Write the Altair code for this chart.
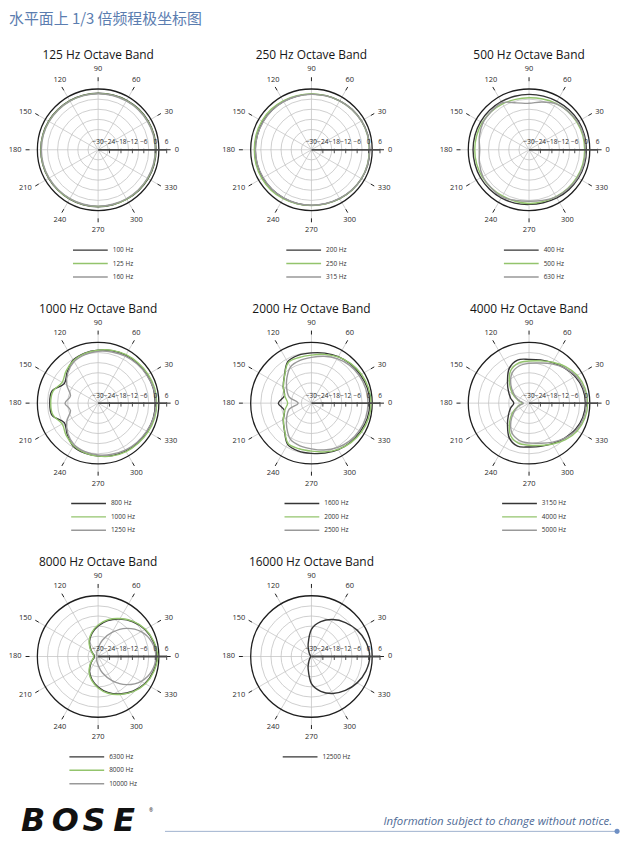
import altair as alt
import pandas as pd

TITLE = "水平面上 1/3 倍频程极坐标图"
FOOTER_NOTE = "Information subject to change without notice."
LOGO = ["B", "O", "S", "E"]

ANGLES = [0, 15, 30, 45, 60, 75, 90, 105, 120, 135, 150, 165,
          180, 195, 210, 225, 240, 255, 270, 285, 300, 315, 330, 345]
SPOKES = [0, 30, 60, 90, 120, 150, 180, 210, 240, 270, 300, 330]
RING_DB = [-24, -18, -12, -6, 0]
OUTER_DB = [6]
AXIS_DB = [-30, -24, -18, -12, -6, 0, 6]

BAND_TITLES = ["125 Hz Octave Band", "250 Hz Octave Band", "500 Hz Octave Band",
               "1000 Hz Octave Band", "2000 Hz Octave Band", "4000 Hz Octave Band",
               "8000 Hz Octave Band", "16000 Hz Octave Band"]
BAND_SERIES = [["100 Hz", "125 Hz", "160 Hz"],
               ["200 Hz", "250 Hz", "315 Hz"],
               ["400 Hz", "500 Hz", "630 Hz"],
               ["800 Hz", "1000 Hz", "1250 Hz"],
               ["1600 Hz", "2000 Hz", "2500 Hz"],
               ["3150 Hz", "4000 Hz", "5000 Hz"],
               ["6300 Hz", "8000 Hz", "10000 Hz"],
               ["12500 Hz"]]

# relative level (dB) at ANGLES
DB_100 = [0.4, 0.4, 0.3, 0.2, 0.0, -0.2, -0.3, -0.3, -0.2, -0.1, 0.0, 0.1,
          0.1, 0.1, 0.0, -0.1, -0.1, -0.1, -0.1, -0.1, 0.0, 0.2, 0.3, 0.4]
DB_125 = [0.2, 0.2, 0.1, 0.0, -0.2, -0.3, -0.4, -0.4, -0.3, -0.2, -0.1, 0.0,
          0.0, 0.0, -0.1, -0.2, -0.2, -0.2, -0.2, -0.2, -0.1, 0.0, 0.1, 0.2]
DB_160 = [0.0, 0.0, -0.1, -0.2, -0.4, -0.5, -0.6, -0.6, -0.5, -0.4, -0.3, -0.2,
          -0.2, -0.2, -0.3, -0.4, -0.4, -0.4, -0.4, -0.4, -0.3, -0.2, -0.1, 0.0]
DB_200 = [0.6, 0.6, 0.4, 0.1, -0.3, -0.6, -0.8, -0.8, -0.7, -0.6, -0.5, -0.5,
          -0.5, -0.5, -0.5, -0.6, -0.7, -0.8, -0.8, -0.7, -0.4, 0.0, 0.4, 0.6]
DB_250 = [0.4, 0.4, 0.3, 0.0, -0.3, -0.6, -0.7, -0.6, -0.3, 0.0, 0.1, 0.1,
          0.0, 0.1, 0.1, 0.0, -0.3, -0.6, -0.7, -0.6, -0.3, 0.0, 0.3, 0.4]
DB_315 = [0.5, 0.5, 0.3, 0.0, -0.4, -0.7, -0.9, -0.9, -0.8, -0.7, -0.7, -0.6,
          -0.6, -0.6, -0.7, -0.7, -0.8, -0.9, -0.9, -0.8, -0.5, -0.1, 0.3, 0.5]
DB_400 = [0.1, 0.1, 0.0, -0.3, -0.6, -0.8, -0.9, -0.9, -0.8, -0.7, -0.6, -0.6,
          -0.6, -0.6, -0.6, -0.7, -0.8, -1.0, -1.3, -1.2, -0.8, -0.4, -0.1, 0.1]
DB_500 = [-0.8, -0.8, -1.0, -1.3, -1.8, -2.4, -2.7, -2.6, -2.2, -1.8, -1.6, -1.5,
          -1.5, -1.5, -1.6, -1.8, -2.0, -2.0, -1.8, -1.8, -1.6, -1.3, -1.0, -0.8]
DB_630 = [-0.3, -0.3, -0.6, -1.3, -2.0, -4.0, -5.6, -4.5, -1.5, -1.8, -2.0, -3.0,
          -4.1, -3.0, -2.0, -1.8, -1.5, -2.5, -3.0, -2.5, -1.5, -1.0, -0.6, -0.3]
DB_800 = [0.0, 0.0, -0.3, -0.6, -0.9, -1.5, -2.2, -2.8, -3.9, -7.0, -9.5, -5.0,
          -4.6, -5.0, -9.5, -7.0, -3.9, -2.8, -2.2, -1.5, -0.9, -0.6, -0.3, 0.0]
DB_1000 = [0.8, 0.7, 0.3, -0.2, -0.6, -1.3, -2.2, -3.0, -4.2, -6.2, -8.2, -5.5,
           -5.1, -5.5, -8.2, -6.2, -4.2, -3.0, -2.2, -1.3, -0.6, -0.2, 0.3, 0.7]
DB_1250 = [0.3, 0.1, -0.5, -1.0, -1.5, -2.2, -2.8, -3.6, -4.8, -7.5, -11.0, -15.0,
           -12.6, -15.0, -11.0, -7.5, -4.8, -3.6, -2.8, -2.2, -1.5, -1.0, -0.5, 0.1]
DB_1600 = [0.6, 0.4, -0.3, -1.0, -1.8, -2.8, -3.6, -3.9, -5.0, -9.9, -12.9, -15.3,
           -12.6, -15.3, -12.9, -9.9, -5.0, -3.9, -3.6, -2.8, -1.8, -1.0, -0.3, 0.4]
DB_2000 = [1.3, 1.0, 0.3, -0.7, -2.0, -3.5, -4.8, -5.2, -5.5, -10.0, -13.0, -15.5,
           -17.5, -15.5, -13.0, -10.0, -5.5, -5.2, -4.8, -3.5, -2.0, -0.7, 0.3, 1.0]
DB_2500 = [-0.3, -0.5, -1.0, -1.8, -3.0, -4.5, -6.0, -6.8, -8.0, -11.7, -15.0, -18.0,
           -23.0, -18.0, -15.0, -11.7, -8.0, -6.8, -6.0, -4.5, -3.0, -1.8, -1.0, -0.5]
DB_3150 = [-0.4, -0.8, -2.0, -3.8, -5.4, -6.5, -7.0, -6.6, -9.1, -14.0, -17.5, -20.0,
           -22.0, -20.0, -17.5, -14.0, -9.1, -6.6, -7.0, -6.5, -5.4, -3.8, -2.0, -0.8]
DB_4000 = [0.8, 0.4, -0.8, -2.9, -5.2, -7.0, -7.9, -8.2, -10.5, -15.5, -20.0, -24.0,
           -26.5, -24.0, -20.0, -15.5, -10.5, -8.2, -7.9, -7.0, -5.2, -2.9, -0.8, 0.4]
DB_5000 = [0.1, -0.3, -1.5, -3.8, -6.2, -8.2, -9.1, -9.8, -12.0, -16.5, -21.0, -24.5,
           -27.0, -24.5, -21.0, -16.5, -12.0, -9.8, -9.1, -8.2, -6.2, -3.8, -1.5, -0.3]
DB_6300 = [0.8, 0.0, -1.6, -4.2, -7.3, -10.5, -14.0, -17.5, -21.0, -24.5, -26.8, -27.8,
           -28.0, -27.8, -26.8, -24.5, -21.0, -17.5, -14.0, -10.5, -7.3, -4.2, -1.6, 0.0]
DB_8000 = [1.3, 0.3, -1.3, -3.9, -7.0, -10.0, -13.5, -17.0, -20.5, -24.0, -26.5, -27.5,
           -27.7, -27.5, -26.5, -24.0, -20.5, -17.0, -13.5, -10.0, -7.0, -3.9, -1.3, 0.3]
DB_10000 = [0.3, -0.8, -3.9, -9.1, -15.4, -21.0, -25.5, -27.5, -28.5, -29.0, -29.3, -29.5,
            -29.5, -29.5, -29.3, -29.0, -28.5, -27.5, -25.5, -21.0, -15.4, -9.1, -3.9, -0.8]
DB_12500 = [0.6, -0.4, -2.3, -4.8, -7.6, -11.1, -15.8, -23.3, -27.5, -29.0, -29.5, -29.7,
            -29.8, -29.7, -29.5, -29.0, -27.5, -23.3, -15.8, -11.1, -7.6, -4.8, -2.3, -0.4]

BAND_VALUES = [[DB_100, DB_125, DB_160], [DB_200, DB_250, DB_315],
               [DB_400, DB_500, DB_630], [DB_800, DB_1000, DB_1250],
               [DB_1600, DB_2000, DB_2500], [DB_3150, DB_4000, DB_5000],
               [DB_6300, DB_8000, DB_10000], [DB_12500]]

# ---- styling / layout (not data) ----
LINE_COLORS = ["#353535", "#93c46c", "#999999"]
FONT = "Open Sans"
K = 69.0 / 36.0          # px per dB
R_OUT = 36 * K           # outer ring radius (px)
R_LAB = 77.0             # angle label radius (px)
COL_W = [219, 219, 180]
COL_CX = [84.7, 80.4, 80.4]
ROW_H = 255
CY = 140


def panel(b, col):
    W = COL_W[col]
    cx = COL_CX[col]
    cy = CY
    H = ROW_H
    xs = alt.Scale(domain=[0, W], range=[0, W], nice=False, zero=False)
    ys = alt.Scale(domain=[0, H], reverse=True, nice=False, zero=False)

    def X(f):
        return alt.X(f, type="quantitative", scale=xs, axis=None)

    def Y(f):
        return alt.Y(f, type="quantitative", scale=ys, axis=None)

    rad = "datum.angle * PI / 180"
    rp = f"{K} * (datum.db + 30)"

    layers = []

    # spokes
    sp = alt.Chart(pd.DataFrame({"angle": SPOKES})).transform_filter(
        "datum.angle != 0"
    ).transform_calculate(
        x1=f"{cx}", y1=f"{cy}",
        x2=f"{cx} + {R_OUT} * cos({rad})", y2=f"{cy} - {R_OUT} * sin({rad})"
    ).mark_rule(color="#c6c6c6", strokeWidth=0.8).encode(
        x=X("x1"), y=Y("y1"), x2="x2:Q", y2="y2:Q")
    layers.append(sp)

    # rings
    rings = alt.Chart(pd.DataFrame({"db": RING_DB})).transform_calculate(
        sz=f"PI * pow({rp}, 2)", cxv=f"{cx}", cyv=f"{cy}"
    ).mark_point(shape="circle", filled=False, color="#c2c2c2",
                 strokeWidth=0.8, opacity=1).encode(
        x=X("cxv"), y=Y("cyv"), size=alt.Size("sz:Q", scale=None))
    layers.append(rings)
    outer = alt.Chart(pd.DataFrame({"db": OUTER_DB})).transform_calculate(
        sz=f"PI * pow({rp}, 2)", cxv=f"{cx}", cyv=f"{cy}"
    ).mark_point(shape="circle", filled=False, color="#1e1e1e",
                 strokeWidth=1.3, opacity=1).encode(
        x=X("cxv"), y=Y("cyv"), size=alt.Size("sz:Q", scale=None))
    layers.append(outer)

    # outer ticks
    ot = alt.Chart(pd.DataFrame({"angle": SPOKES})).transform_calculate(
        x1=f"{cx} + {R_OUT} * cos({rad})", y1=f"{cy} - {R_OUT} * sin({rad})",
        x2=f"{cx} + {R_OUT + 4} * cos({rad})", y2=f"{cy} - {R_OUT + 4} * sin({rad})"
    ).mark_rule(color="#1e1e1e", strokeWidth=1).encode(
        x=X("x1"), y=Y("y1"), x2="x2:Q", y2="y2:Q")
    layers.append(ot)

    # angle labels
    al = alt.Chart(pd.DataFrame({"angle": SPOKES})).transform_calculate(
        lx=f"{cx} + {R_LAB} * cos({rad})", ly=f"{cy} - {R_LAB} * sin({rad})",
        c=f"cos({rad})", s=f"sin({rad})"
    )
    groups = [("datum.c > 0.6", "left", "middle"),
              ("datum.c < -0.6", "right", "middle"),
              ("abs(datum.c) <= 0.6 && datum.s > 0", "center", "bottom"),
              ("abs(datum.c) <= 0.6 && datum.s < 0", "center", "top")]
    for flt, al_, bl in groups:
        layers.append(al.transform_filter(flt).mark_text(
            fontSize=7.5, font=FONT, color="#2a2a2a", align=al_, baseline=bl
        ).encode(x=X("lx"), y=Y("ly"), text=alt.Text("angle:Q", format="d")))

    # curves + legend
    labels = BAND_SERIES[b]
    values = BAND_VALUES[b]
    nd = max(len(l) for l in labels)
    lx0 = cx + 5.5 - (40 + 3.6 * nd) / 2
    for i, (lab, vals) in enumerate(zip(labels, values)):
        df = pd.DataFrame({"angle": ANGLES, "db": vals})
        curve = alt.Chart(df).transform_calculate(
            px=f"{cx} + {rp} * cos({rad})", py=f"{cy} - {rp} * sin({rad})"
        ).mark_line(interpolate="cardinal-closed", color=LINE_COLORS[i],
                    strokeWidth=1.4).encode(x=X("px"), y=Y("py"), order="angle:Q")
        layers.append(curve)

        leg = alt.Chart(pd.DataFrame({"label": [lab], "k": [i]})).transform_calculate(
            ly=f"{cy} + 101 + datum.k * 13.5", x1=f"{lx0}", x2=f"{lx0 + 35}",
            tx=f"{lx0 + 40}"
        )
        layers.append(leg.mark_rule(color=LINE_COLORS[i], strokeWidth=1.4).encode(
            x=X("x1"), x2="x2:Q", y=Y("ly")))
        layers.append(leg.mark_text(fontSize=6.5, font=FONT, color="#333333",
                                    align="left", baseline="middle").encode(
            x=X("tx"), y=Y("ly"), text="label:N"))

    # 0-degree dB axis (drawn over the curves)
    ax = alt.Chart(pd.DataFrame({"db": AXIS_DB})).transform_calculate(
        px=f"{cx} + {rp}", py=f"{cy}"
    )
    layers.append(ax.mark_line(color="#4a4a4a", strokeWidth=1.8).encode(
        x=X("px"), y=Y("py"), order="db:Q"))
    layers.append(ax.transform_filter("datum.db > -30").transform_calculate(
        t1=f"{cy} - 1", t2=f"{cy} + 3.5"
    ).mark_rule(color="#4a4a4a", strokeWidth=1).encode(
        x=X("px"), y=Y("t1"), y2="t2:Q"))
    layers.append(ax.transform_calculate(ly=f"{cy} - 7.5").mark_text(
        fontSize=6.5, font=FONT, color="#2a2a2a", baseline="middle", align="center"
    ).encode(x=X("px"), y=Y("ly"), text=alt.Text("db:Q", format="d")))

    # panel title
    layers.append(alt.Chart(pd.DataFrame({"t": [BAND_TITLES[b]]})).mark_text(
        fontSize=12, font=FONT, color="#151515", align="center", baseline="middle"
    ).encode(x=alt.value(cx), y=alt.value(45), text="t:N"))

    if b == 0:
        layers.append(alt.Chart(pd.DataFrame({"t": [TITLE]})).mark_text(
            fontSize=15, font="Noto Sans CJK SC", color="#5b7db0",
            align="left", baseline="top"
        ).encode(x=alt.value(-5), y=alt.value(1), text="t:N"))

    if b == 6:
        # footer drawn relative to this bottom-left panel
        logo = alt.Chart(pd.DataFrame({"ch": LOGO, "k": list(range(len(LOGO)))}))
        layers.append(logo.transform_calculate(lx="7 + datum.k * 31", lyv="316").mark_text(
            fontSize=32, font="DejaVu Sans", fontWeight="bold", fontStyle="italic",
            color="#111111", align="left", baseline="alphabetic"
        ).encode(x=X("lx"), y=Y("lyv"), text="ch:N"))
        base = alt.Chart(pd.DataFrame({"t": [FOOTER_NOTE]}))
        layers.append(base.mark_text(fontSize=5, font=FONT, color="#111111",
                                     align="left", baseline="middle").encode(
            x=alt.value(136), y=alt.value(294), text=alt.value("®")))
        layers.append(base.mark_text(fontSize=11.5, font=FONT, fontStyle="italic",
                                     color="#4f6b96", align="right",
                                     baseline="alphabetic").encode(
            x=alt.value(602), y=alt.value(310), text="t:N"))
        layers.append(base.mark_rule(color="#9fb2cf", strokeWidth=1).encode(
            x=alt.value(152), x2=alt.value(606), y=alt.value(316)))
        layers.append(base.mark_point(shape="circle", filled=True, color="#6e8fc4",
                                      size=26, opacity=1).encode(
            x=alt.value(607), y=alt.value(316)))

    return alt.layer(*layers).properties(width=W, height=H)


panels = [panel(b, b % 3) for b in range(len(BAND_TITLES))]
chart = alt.concat(*panels, columns=3, spacing=0, bounds="flush",
                   align="each").properties(padding=0).configure_view(stroke=None)

chart.save("out.html", embed_options={"renderer": "svg", "actions": False})
